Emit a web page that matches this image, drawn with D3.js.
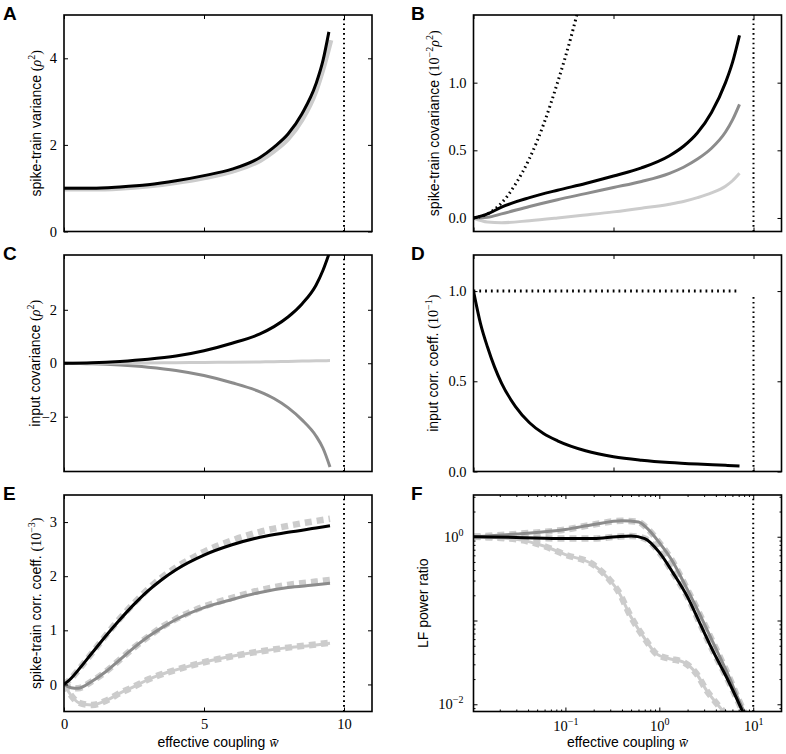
<!DOCTYPE html>
<html>
<head>
<meta charset="utf-8">
<script src="https://cdn.jsdelivr.net/npm/d3@7"></script>
<style>
body { margin: 0; background: #fff; }
svg text { fill: #000; }
.ax text { font-family: "Liberation Serif", serif; font-size: 14.5px; }
.ax line { stroke: #000; stroke-width: 1; }
.lbl { font-family: "Liberation Sans", Arial, sans-serif; font-size: 14px; white-space: pre; }
.letter { font-family: "Liberation Sans", Arial, sans-serif; font-size: 19px; font-weight: bold; }
</style>
</head>
<body>
<div id="chart"></div>
<script>
// ---- data ----
let critCoupling = 10;

// A: spike-train variance
let xA = [0, 1, 2, 3, 4, 5, 6, 7, 7.5, 8, 8.5, 9, 9.25, 9.46];
let varBlack = [1.0, 1.0, 1.03, 1.08, 1.17, 1.29, 1.44, 1.71, 1.95, 2.25, 2.72, 3.41, 3.95, 4.61];
let xAGray = [0, 1, 2, 3, 4, 5, 6, 7, 7.5, 8, 8.5, 9, 9.25, 9.53];
let varGray = [0.98, 0.98, 1.0, 1.05, 1.13, 1.24, 1.39, 1.64, 1.86, 2.14, 2.58, 3.25, 3.75, 4.42];

// B: spike-train covariance
let xB = [0, 0.5, 1, 2, 3, 4, 5, 6, 7, 7.5, 8, 8.5, 9, 9.25, 9.5];
let covBlack = [0, 0.03, 0.08, 0.15, 0.205, 0.255, 0.31, 0.37, 0.46, 0.53, 0.63, 0.78, 1.0, 1.15, 1.35];
let covMid = [0, 0.005, 0.03, 0.085, 0.135, 0.18, 0.225, 0.27, 0.33, 0.375, 0.435, 0.515, 0.635, 0.725, 0.84];
let covLight = [0, -0.03, -0.035, -0.02, 0, 0.022, 0.045, 0.072, 0.102, 0.122, 0.15, 0.185, 0.235, 0.275, 0.33];
let xBDot = [0, 0.5, 1, 1.5, 2, 2.5, 3, 3.5, 3.8];
let covDot = [0, 0.03, 0.11, 0.25, 0.44, 0.69, 1.0, 1.35, 1.59];

// C: input covariance
let xC = [0, 1, 2, 3, 4, 5, 6, 7, 7.5, 8, 8.5, 9, 9.25, 9.5];
let inBlack = [0, 0.02, 0.07, 0.15, 0.27, 0.47, 0.75, 1.1, 1.37, 1.73, 2.22, 2.92, 3.48, 4.2];
let inMid = [0, -0.02, -0.07, -0.15, -0.27, -0.46, -0.73, -1.07, -1.32, -1.66, -2.12, -2.72, -3.18, -3.88];
let inLight = [0, 0, 0.005, 0.01, 0.02, 0.03, 0.04, 0.05, 0.06, 0.07, 0.08, 0.09, 0.095, 0.1];

// D: input corr. coeff.
let xD = [0, 0.25, 0.5, 0.75, 1, 1.5, 2, 2.5, 3, 4, 5, 6, 7, 8, 9, 9.5];
let rhoIn = [1.0, 0.82, 0.69, 0.58, 0.49, 0.36, 0.27, 0.21, 0.17, 0.115, 0.082, 0.063, 0.05, 0.041, 0.034, 0.03];
let xDDot = [0, 9.5];
let rhoDot = [1.0, 1.0];
let critTopD = 0.97;

// E: spike-train corr. coeff.
let xE = [0, 0.25, 0.5, 1, 1.5, 2, 2.5, 3, 3.5, 4, 5, 6, 7, 8, 9, 9.5];
let ccBlack = [0, 0.11, 0.26, 0.58, 0.9, 1.2, 1.48, 1.73, 1.94, 2.12, 2.39, 2.58, 2.72, 2.81, 2.89, 2.93];
let ccBlackSim = [0, 0.11, 0.26, 0.58, 0.91, 1.22, 1.5, 1.76, 1.98, 2.16, 2.45, 2.66, 2.82, 2.93, 3.02, 3.06];
let ccMid = [0, -0.06, -0.07, 0.06, 0.24, 0.46, 0.68, 0.88, 1.05, 1.2, 1.42, 1.57, 1.7, 1.79, 1.84, 1.87];
let ccMidSim = [0, -0.06, -0.07, 0.06, 0.24, 0.46, 0.68, 0.88, 1.06, 1.21, 1.44, 1.6, 1.74, 1.84, 1.9, 1.93];
let ccLight = [0, -0.2, -0.33, -0.38, -0.3, -0.16, -0.04, 0.09, 0.19, 0.27, 0.41, 0.52, 0.61, 0.68, 0.73, 0.76];
let ccLightSim = [0, -0.2, -0.33, -0.38, -0.3, -0.16, -0.04, 0.09, 0.19, 0.27, 0.41, 0.52, 0.61, 0.68, 0.74, 0.77];

// F: LF power ratio (log-log)
let xFBlack = [0.0105, 0.03, 0.1, 0.2, 0.35, 0.5, 0.7, 1, 1.4, 2, 2.7, 3.7, 5.2, 7.6, 8];
let lfBlack = [1.0, 0.98, 0.95, 0.95, 1.0, 1.02, 0.95, 0.65, 0.37, 0.19, 0.093, 0.044, 0.021, 0.0085, 0.0075];
let xFMid = [0.0105, 0.03, 0.1, 0.2, 0.4, 0.6, 0.72, 1, 1.38, 1.93, 2.68, 3.72, 5.18, 8, 8.5];
let lfMid = [1.0, 1.08, 1.22, 1.4, 1.55, 1.5, 1.3, 0.85, 0.51, 0.25, 0.12, 0.055, 0.025, 0.0082, 0.0072];
let xFLight = [0.0105, 0.03, 0.06, 0.1, 0.2, 0.3, 0.36, 0.5, 0.72, 0.93, 1.28, 1.78, 2.5, 3.2, 4.0, 4.8, 5.2];
let lfLight = [1.0, 0.93, 0.77, 0.61, 0.46, 0.3, 0.23, 0.11, 0.058, 0.04, 0.035, 0.032, 0.023, 0.0145, 0.0105, 0.0082, 0.0072];

// ticks
let linXTicks = [0, 5, 10];
let yTicksA = [0, 2, 4];
let yTicksB = [0, 0.5, 1.0];
let yTicksC = [-2, 0, 2];
let yTicksD = [0, 0.5, 1.0];
let yTicksE = [0, 1, 2, 3];
let xTicksF = [0.1, 1, 10];
let yTicksF = [0.01, 0.1, 1];
let yLabelledF = [0.01, 1];

let BLACK = "#000", MID = "#8c8c8c", LIGHT = "#cccccc";

// ---- layout ----
let W = 786, H = 754,
    lefts = [64, 473.5], tops = [15, 255, 495],
    pw = 308, ph = 216.5;

let svg = d3.select("#chart").append("svg").attr("width", W).attr("height", H);

function panel(col, row, xs, ys) {
    let g = svg.append("g").attr("transform", "translate(" + lefts[col] + "," + tops[row] + ")"),
        id = "clip" + col + row;
    g.append("clipPath").attr("id", id).append("rect").attr("width", pw).attr("height", ph);
    let plot = g.append("g").attr("clip-path", "url(#" + id + ")");
    return {g: g, plot: plot, x: xs.range([0, pw]), y: ys.range([ph, 0]), col: col, row: row};
}

function axisSide(p, axis, tr, vals, size, pad, fmt) {
    let a = p.g.append("g").attr("class", "ax")
        .attr("transform", "translate(" + tr + ")")
        .call(axis.tickValues(vals).tickSize(size).tickPadding(pad).tickFormat(fmt || (() => "")));
    a.attr("font-family", null).attr("font-size", null);
    a.select(".domain").remove();
    return a;
}

function frame(p, o) {
    axisSide(p, d3.axisBottom(p.x), [0, ph], o.xt, -4, o.xPad || 7, o.xFmt);
    axisSide(p, d3.axisTop(p.x), [0, 0], o.xt, -4, 0);
    axisSide(p, d3.axisLeft(p.y), [0, 0], o.yt, -4, o.yPad || 7, o.yFmt);
    axisSide(p, d3.axisRight(p.y), [pw, 0], o.yt, -4, 0);
    if (o.xMinor) {
        axisSide(p, d3.axisBottom(p.x), [0, ph], o.xMinor, -2, 0);
        axisSide(p, d3.axisTop(p.x), [0, 0], o.xMinor, -2, 0);
    }
    if (o.yMinor) {
        axisSide(p, d3.axisLeft(p.y), [0, 0], o.yMinor, -2, 0);
        axisSide(p, d3.axisRight(p.y), [pw, 0], o.yMinor, -2, 0);
    }
    p.g.append("rect").attr("width", pw).attr("height", ph)
        .attr("fill", "none").attr("stroke", "#000").attr("stroke-width", 1.6);
}

function line(p, xs, ys, c, w, dash) {
    let pts = xs.map((v, i) => [v, ys[i]]);
    p.plot.append("path").datum(pts)
        .attr("d", d3.line().x(d => p.x(d[0])).y(d => p.y(d[1])).curve(d3.curveMonotoneX))
        .attr("fill", "none")
        .attr("stroke", c)
        .attr("stroke-width", w)
        .attr("stroke-dasharray", dash || null);
}

function critLine(p, xv, y0, y1) {
    p.plot.append("line")
        .attr("x1", p.x(xv)).attr("x2", p.x(xv))
        .attr("y1", p.y(y0)).attr("y2", p.y(y1))
        .attr("stroke", "#000").attr("stroke-width", 2).attr("stroke-dasharray", "1.6,3.2");
}

// parts: [text, kind]  kind: s = sans, r = serif, i = serif italic, u = superscript
function richText(t, parts) {
    let up = false;
    parts.forEach(([s, k]) => {
        let ts = t.append("tspan").text(s);
        if (k !== "s") ts.attr("font-family", "'Liberation Serif', serif");
        if (k === "i") ts.attr("font-style", "italic");
        if (k === "u") {
            ts.attr("font-size", "10px");
            if (!up) ts.attr("dy", -6);
            up = true;
        } else if (up) {
            ts.attr("dy", 6);
            up = false;
        }
    });
    return t;
}

function yLabel(p, parts, x) {
    let t = svg.append("text").attr("class", "lbl")
        .attr("text-anchor", "middle")
        .attr("transform", "translate(" + x + "," + (tops[p.row] + ph / 2) + ") rotate(-90)");
    richText(t, parts);
}

function xLabel(p) {
    let t = svg.append("text").attr("class", "lbl")
        .attr("text-anchor", "middle")
        .attr("x", lefts[p.col] + pw / 2).attr("y", 747);
    richText(t, [["effective coupling ", "s"], ["w\u0304", "i"]]);
}

function letter(p, s) {
    svg.append("text").attr("class", "letter")
        .attr("x", p.col === 0 ? 3 : 411).attr("y", tops[p.row] + 4.5).text(s);
}

let minus = d3.format(".0f"), fmt1 = d3.format(".1f");
let signed = d => minus(d).replace("-", "\u2212");

// ---- A ----
let pA = panel(0, 0, d3.scaleLinear().domain([0, 11]), d3.scaleLinear().domain([0, 5]));
line(pA, xAGray, varGray, LIGHT, 5);
line(pA, xA, varBlack, BLACK, 3);
critLine(pA, critCoupling, 0, 5);
frame(pA, {xt: linXTicks, yt: yTicksA, yFmt: signed});
yLabel(pA, [["spike-train variance ", "s"], ["(", "r"], ["\u03c1", "i"], ["2", "u"], [")", "r"]], 41);
letter(pA, "A");

// ---- B ----
let pB = panel(1, 0, d3.scaleLinear().domain([0, 11]), d3.scaleLinear().domain([-0.1, 1.5]));
line(pB, xB, covLight, LIGHT, 3);
line(pB, xB, covMid, MID, 3);
line(pB, xBDot, covDot, BLACK, 3, "1.6,3.4");
line(pB, xB, covBlack, BLACK, 3);
critLine(pB, critCoupling, -0.1, 1.5);
frame(pB, {xt: linXTicks, yt: yTicksB, yFmt: fmt1});
yLabel(pB, [["spike-train covariance ", "s"], ["(10", "r"], ["\u22122", "u"], ["\u03c1", "i"], ["2", "u"], [")", "r"]], 439);
letter(pB, "B");

// ---- C ----
let pC = panel(0, 1, d3.scaleLinear().domain([0, 11]), d3.scaleLinear().domain([-4.05, 4.05]));
line(pC, xC, inMid, MID, 3);
line(pC, xC, inLight, LIGHT, 3);
line(pC, xC, inBlack, BLACK, 3);
critLine(pC, critCoupling, -4.05, 4.05);
frame(pC, {xt: linXTicks, yt: yTicksC, yFmt: signed});
yLabel(pC, [["input covariance ", "s"], ["(", "r"], ["\u03c1", "i"], ["2", "u"], [")", "r"]], 40);
letter(pC, "C");

// ---- D ----
let pD = panel(1, 1, d3.scaleLinear().domain([0, 11]), d3.scaleLinear().domain([0, 1.2]));
line(pD, xDDot, rhoDot, BLACK, 3, "1.8,4");
line(pD, xD, rhoIn, BLACK, 3);
critLine(pD, critCoupling, 0, critTopD);
frame(pD, {xt: linXTicks, yt: yTicksD, yFmt: fmt1});
yLabel(pD, [["input corr. coeff. ", "s"], ["(10", "r"], ["\u22121", "u"], [")", "r"]], 438);
letter(pD, "D");

// ---- E ----
let pE = panel(0, 2, d3.scaleLinear().domain([0, 11]), d3.scaleLinear().domain([-0.5, 3.5]));
line(pE, xE, ccLight, LIGHT, 3);
line(pE, xE, ccLightSim, LIGHT, 6.5, "7,5");
line(pE, xE, ccMidSim, LIGHT, 6.5, "7,5");
line(pE, xE, ccBlackSim, LIGHT, 6.5, "7,5");
line(pE, xE, ccMid, MID, 3);
line(pE, xE, ccBlack, BLACK, 3);
critLine(pE, critCoupling, -0.5, 3.5);
frame(pE, {xt: linXTicks, yt: yTicksE, xFmt: signed, yFmt: signed});
yLabel(pE, [["spike-train corr. coeff. ", "s"], ["(10", "r"], ["\u22123", "u"], [")", "r"]], 41);
xLabel(pE);
letter(pE, "E");

// ---- F ----
let pF = panel(1, 2, d3.scaleLog().domain([0.0105, 20]), d3.scaleLog().domain([0.0082, 3.15]));
let minorX = [], minorY = [];
[0.01, 0.1, 1, 10].forEach(dec => d3.range(2, 10).forEach(k => {
    if (k * dec > 0.0105 && k * dec < 20) minorX.push(k * dec);
}));
[0.001, 0.01, 0.1, 1].forEach(dec => d3.range(2, 10).forEach(k => {
    if (k * dec > 0.0082 && k * dec < 3.15) minorY.push(k * dec);
}));
line(pF, xFLight, lfLight, LIGHT, 3);
line(pF, xFLight, lfLight, LIGHT, 6.5, "7,5");
line(pF, xFMid, lfMid, LIGHT, 6.5, "7,5");
line(pF, xFBlack, lfBlack, LIGHT, 6.5, "7,5");
line(pF, xFMid, lfMid, MID, 3);
line(pF, xFBlack, lfBlack, BLACK, 3);
critLine(pF, critCoupling, 0.0082, 3.15);
frame(pF, {xt: xTicksF, yt: yTicksF, xMinor: minorX, yMinor: minorY, xPad: 9, yPad: 10,
    xFmt: d => "10", yFmt: d => yLabelledF.indexOf(d) >= 0 ? "10" : ""});
pF.g.selectAll(".ax .tick text").each(function (d) {
    let t = d3.select(this);
    if (t.text() !== "10") return;
    t.append("tspan").attr("dy", -6).attr("font-size", "10px")
        .text(signed(Math.log10(d)));
});
yLabel(pF, [["LF power ratio", "s"]], 428);
xLabel(pF);
letter(pF, "F");
</script>
</body>
</html>
